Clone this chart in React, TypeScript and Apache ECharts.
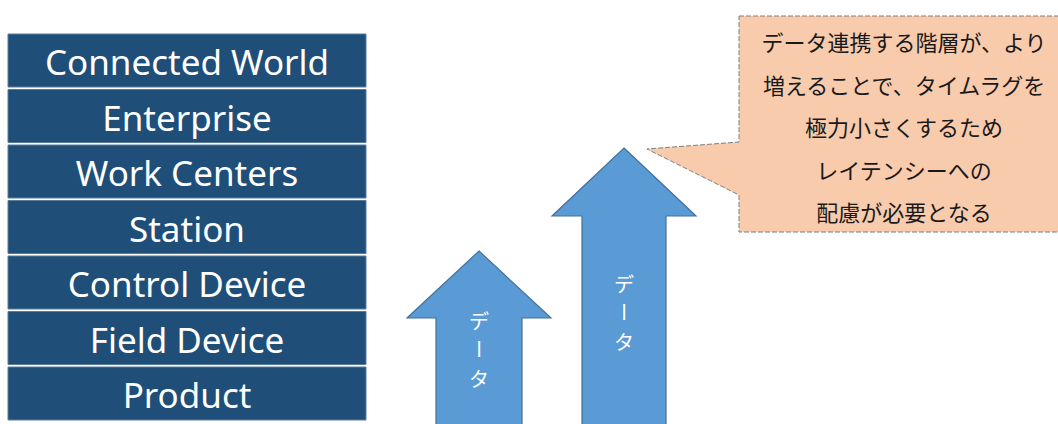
import React, { useEffect, useRef } from "react";
import * as echarts from "echarts";

// ---- content ----
const layers: string[] = [
  "Connected World",
  "Enterprise",
  "Work Centers",
  "Station",
  "Control Device",
  "Field Device",
  "Product",
];

const arrowLabel: string[] = ["デ", "ー", "タ"];

const calloutLines: string[] = [
  "データ連携する階層が、より",
  "増えることで、タイムラグを",
  "極力小さくするため",
  "レイテンシーへの",
  "配慮が必要となる",
];

// ---- layout ----
const LAYER_X = 8;
const LAYER_W = 358;
const LAYER_TOP = 34;
const LAYER_PITCH = 55.5;
const LAYER_H = 53;

type ArrowGeom = { cx: number; tipY: number; headY: number; headHalf: number; shaftHalf: number; labelY: number };
const arrowGeoms: ArrowGeom[] = [
  { cx: 479, tipY: 251, headY: 318, headHalf: 72, shaftHalf: 43, labelY: 320 },
  { cx: 624, tipY: 148, headY: 216, headHalf: 72, shaftHalf: 42, labelY: 283 },
];

export default function App() {
  const ref = useRef<HTMLDivElement>(null);

  useEffect(() => {
    if (!ref.current) return;
    const chart = echarts.init(ref.current, undefined, { renderer: "svg" });
    const elements: any[] = [];

    layers.forEach((name, i) => {
      const y = LAYER_TOP + i * LAYER_PITCH;
      elements.push({
        type: "rect",
        shape: { x: LAYER_X, y, width: LAYER_W, height: LAYER_H },
        style: { fill: "#1F4E79", stroke: "#5A7C9C", lineWidth: 1 },
      });
      elements.push({
        type: "text",
        x: LAYER_X + LAYER_W / 2,
        y: y + LAYER_H / 2 + 1,
        style: {
          text: name,
          fill: "#ffffff",
          font: '35px "Noto Sans", sans-serif',
          align: "center",
          verticalAlign: "middle",
        },
      });
    });

    arrowGeoms.forEach((a) => {
      const bottom = 440;
      elements.push({
        type: "polygon",
        shape: {
          points: [
            [a.cx, a.tipY],
            [a.cx + a.headHalf, a.headY],
            [a.cx + a.shaftHalf, a.headY],
            [a.cx + a.shaftHalf, bottom],
            [a.cx - a.shaftHalf, bottom],
            [a.cx - a.shaftHalf, a.headY],
            [a.cx - a.headHalf, a.headY],
          ],
        },
        style: { fill: "#5B9BD5", stroke: "#41719C", lineWidth: 1.2 },
      });
      arrowLabel.forEach((ch, j) => {
        elements.push({
          type: "text",
          x: a.cx,
          y: a.labelY + j * 29,
          rotation: ch === "ー" ? -Math.PI / 2 : 0,
          style: {
            text: ch,
            fill: "#ffffff",
            font: '20px "Noto Sans CJK JP", sans-serif',
            align: "center",
            verticalAlign: "middle",
          },
        });
      });
    });

    // callout
    elements.push({
      type: "polygon",
      shape: {
        points: [
          [739, 16],
          [1070, 16],
          [1070, 232],
          [739, 232],
          [739, 195],
          [647, 149],
          [739, 142],
        ],
      },
      style: { fill: "#F8CBAD", stroke: "#7F7F7F", lineWidth: 1, lineDash: [5, 2] },
    });
    calloutLines.forEach((line, i) => {
      elements.push({
        type: "text",
        x: 904,
        y: 41 + i * 42.5,
        style: {
          text: line,
          fill: "#1a1a1a",
          font: '22px "Noto Sans CJK JP", sans-serif',
          align: "center",
          verticalAlign: "middle",
        },
      });
    });

    chart.setOption({
      animation: false,
      backgroundColor: "#ffffff",
      graphic: { elements },
    });
    return () => chart.dispose();
  }, []);

  return (
    <div
      ref={ref}
      style={{ position: "fixed", left: 0, top: 0, width: 1058, height: 424 }}
    />
  );
}
